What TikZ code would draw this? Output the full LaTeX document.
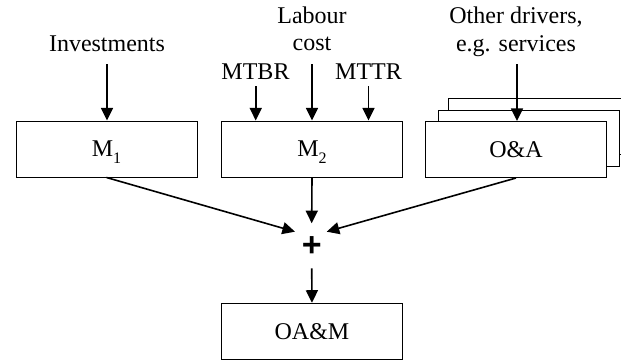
\documentclass[tikz,border=0pt]{standalone}
\usepackage{fontspec}
\setmainfont{Liberation Serif}
\newfontfamily\plusfont{Liberation Sans}
\usetikzlibrary{arrows.meta,calc}
\newcommand{\lowsub}[1]{\raisebox{-3.4pt}[0pt][0pt]{\fontsize{8}{8}\selectfont #1}}
\begin{document}
\begin{tikzpicture}[x=0.5pt,y=-0.5pt,
  box/.style={draw=black,line width=0.5pt,fill=white,minimum width=90.5pt,minimum height=28pt,inner sep=0pt,font=\fontsize{12}{14}\selectfont},
  lbl/.style={anchor=base,inner sep=0pt,font=\fontsize{12}{14}\selectfont},
  arr/.style={line width=0.8pt,-{Triangle[length=6.3pt,width=6pt]}}]
\useasboundingbox (0,0) rectangle (621,360);
\clip (0,0) rectangle (621,360);
% labels
\node[lbl] (inv) at (107,51.7) {Investments};
\node[lbl] (lab1) at (312,23.3) {Labour};
\node[lbl] (lab2) at (312,50.7) {cost};
\node[lbl] (mtbr) at (255.5,79) {MTBR};
\node[lbl] (mttr) at (368.5,79) {MTTR};
\node[lbl] (oth1) at (516,23.3) {Other drivers,};
\node[lbl] (oth2) at (516,51) {e.g. services};
% boxes
\node[box] (M1) at (106.5,149) {M\lowsub{1}};
\node[box] (M2) at (312,149) {M\lowsub{2}};
\node[box] (OA3) at (539.3,126.7) {};
\node[box] (OA2) at (528.5,138) {};
\node[box] (OA) at (516,149.5) {O\&A};
\node[box] (OAM) at (312,331.3) {OA\&M};
% plus
\node[inner sep=0pt,font=\plusfont\fontsize{17}{20}\bfseries\selectfont] (plus) at (311.7,247) {+};
% arrow sources
\coordinate (s1) at (107,64);
\coordinate (s2) at (312,64);
\coordinate (s3) at (517,64);
\coordinate (sb) at (255.7,86);
\coordinate (st) at (368.5,86);
\coordinate (pt) at ($(plus)+(0,-23.7)$);
\coordinate (pl) at ($(plus)+(-16.7,-15.3)$);
\coordinate (pr) at ($(plus)+(15,-15.3)$);
\coordinate (pb) at ($(plus)+(0,21.3)$);
% arrows
\draw[arr] (s1) -- (s1 |- M1.north);
\draw[arr] (s2) -- (M2.north);
\draw[arr] (sb) -- (sb |- M2.north);
\draw[arr] (st) -- (st |- M2.north);
\draw[arr] (s3) -- (s3 |- OA.north);
\draw[arr] (M1.south) -- (pl);
\draw[arr] (M2.south) -- (pt);
\draw[arr] (OA.south) -- (pr);
\draw[arr] (pb) -- (OAM.north);
\end{tikzpicture}
\end{document}
